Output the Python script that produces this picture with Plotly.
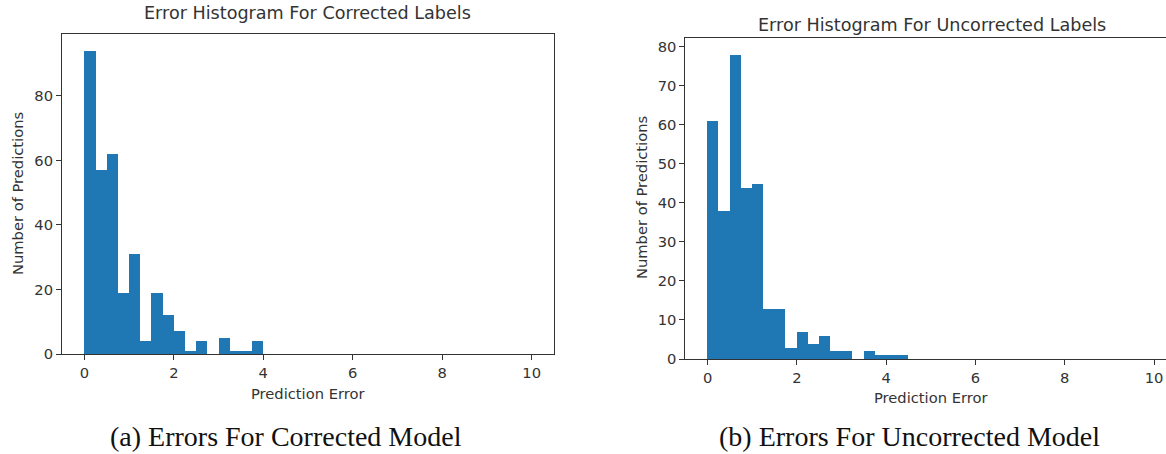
import plotly.graph_objects as go

# ---------------- data ----------------
bin_start = 0.0
bin_width = 0.25
counts_corrected = [94, 57, 62, 19, 31, 4, 19, 12, 7, 1, 4, 0, 5, 1, 1, 4]
counts_uncorrected = [61, 38, 78, 44, 45, 13, 13, 3, 7, 4, 6, 2, 2, 0, 2, 1, 1, 1]
x_ticks = [0, 2, 4, 6, 8, 10]
y_ticks_left = [0, 20, 40, 60, 80]
y_ticks_right = [0, 10, 20, 30, 40, 50, 60, 70, 80]
titles = ["Error Histogram For Corrected Labels", "Error Histogram For Uncorrected Labels"]
captions = ["(a) Errors For Corrected Model", "(b) Errors For Uncorrected Model"]
x_label = "Prediction Error"
y_label = "Number of Predictions"

# ---------------- layout helpers ----------------
W, H = 1166, 454
def px(x):
    return x / W
def py(y):
    return 1 - y / H

BLUE = "#1f77b4"
TXT = "#333333"
SANS = "DejaVu Sans"
SERIF = "Liberation Serif"
LBL = 14.7
TTL = 17.6
CAP = 28

def centers(counts):
    return [bin_start + bin_width * (i + 0.5) for i in range(len(counts))]

fig = go.Figure()
fig.add_trace(go.Bar(x=centers(counts_corrected), y=counts_corrected, width=bin_width,
                     marker=dict(color=BLUE, line=dict(width=0)), xaxis="x", yaxis="y",
                     showlegend=False))
fig.add_trace(go.Bar(x=centers(counts_uncorrected), y=counts_uncorrected, width=bin_width,
                     marker=dict(color=BLUE, line=dict(width=0)), xaxis="x2", yaxis="y2",
                     showlegend=False))

axis_common = dict(showgrid=False, zeroline=False, showline=True, linecolor="#333333",
                   linewidth=1, ticks="outside", ticklen=5, tickwidth=1, tickcolor="#333333",
                   tickfont=dict(family=SANS, size=LBL, color=TXT), automargin=False)

# left axes: x 62..554, y 34..354
fig.update_layout(
    xaxis=dict(domain=[px(62), px(554)], range=[-0.5, 10.5], tickvals=x_ticks,
               mirror=True, anchor="y", **axis_common),
    yaxis=dict(domain=[py(354), py(34)], range=[0, 99.2], tickvals=y_ticks_left,
               mirror=True, anchor="x", **axis_common),
    # right axes: x 685..(cropped), y 37.7..359
    xaxis2=dict(domain=[px(685.3), 1.0], range=[-0.5, -0.5 + (W - 685.3) / 44.64],
                tickvals=x_ticks, mirror=True, anchor="y2", **axis_common),
    yaxis2=dict(domain=[py(359), py(37.7)], range=[0, 82.3], tickvals=y_ticks_right,
                mirror=False, anchor="x2", **axis_common),
    width=W, height=H, margin=dict(l=0, r=0, t=0, b=0, autoexpand=False),
    paper_bgcolor="white", plot_bgcolor="white", bargap=0,
)

ann = []
# titles
ann.append(dict(text=titles[0], x=px(307.5), y=py(12.5), xref="paper", yref="paper",
                showarrow=False, font=dict(family=SANS, size=TTL, color=TXT),
                xanchor="center", yanchor="middle"))
ann.append(dict(text=titles[1], x=px(931.5), y=py(25), xref="paper", yref="paper",
                showarrow=False, font=dict(family=SANS, size=TTL, color=TXT),
                xanchor="center", yanchor="middle"))
# x labels
ann.append(dict(text=x_label, x=px(308), y=py(393), xref="paper", yref="paper",
                showarrow=False, font=dict(family=SANS, size=LBL, color=TXT),
                xanchor="center", yanchor="middle"))
ann.append(dict(text=x_label, x=px(931), y=py(397), xref="paper", yref="paper",
                showarrow=False, font=dict(family=SANS, size=LBL, color=TXT),
                xanchor="center", yanchor="middle"))
# y labels
ann.append(dict(text=y_label, x=px(17), y=py(194), xref="paper", yref="paper",
                showarrow=False, textangle=-90, font=dict(family=SANS, size=LBL, color=TXT),
                xanchor="center", yanchor="middle"))
ann.append(dict(text=y_label, x=px(641), y=py(198), xref="paper", yref="paper",
                showarrow=False, textangle=-90, font=dict(family=SANS, size=LBL, color=TXT),
                xanchor="center", yanchor="middle"))
# captions
ann.append(dict(text=captions[0], x=px(285.5), y=py(436), xref="paper", yref="paper",
                showarrow=False, font=dict(family=SERIF, size=CAP, color="#111111"),
                xanchor="center", yanchor="middle"))
ann.append(dict(text=captions[1], x=px(909), y=py(436), xref="paper", yref="paper",
                showarrow=False, font=dict(family=SERIF, size=CAP, color="#111111"),
                xanchor="center", yanchor="middle"))
fig.update_layout(annotations=ann)

fig.write_html("out.html", config={"displayModeBar": False},
               post_script="document.body.style.margin='0';document.body.style.overflow='hidden';")
